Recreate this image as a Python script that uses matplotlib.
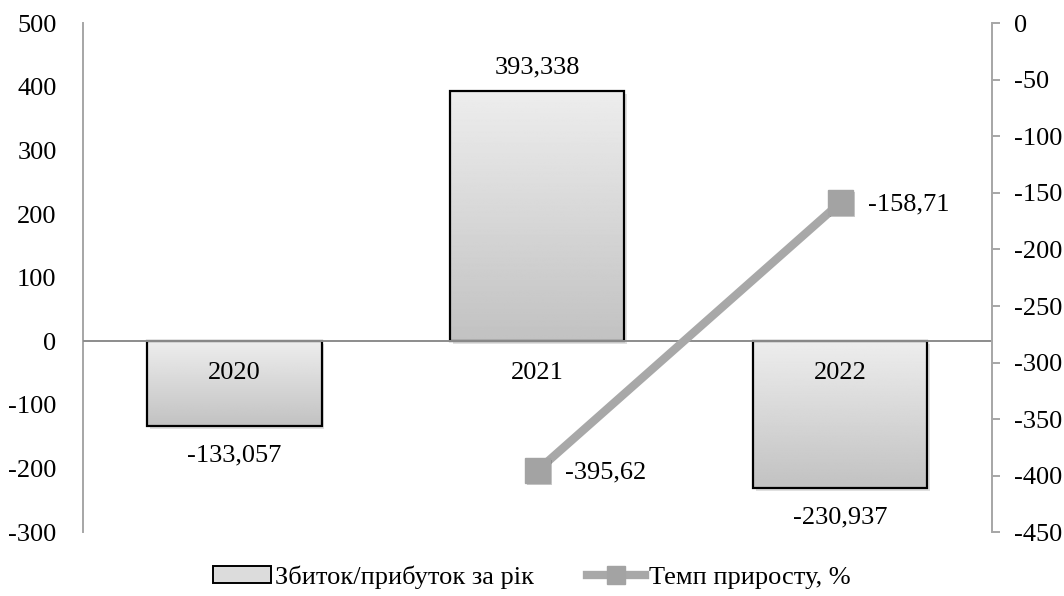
import numpy as np
import matplotlib
matplotlib.use('Agg')
import matplotlib.pyplot as plt
from matplotlib.patches import Patch
from matplotlib.lines import Line2D
import matplotlib.patheffects as pe

# дані
years = ['2020', '2021', '2022']
profit = [-133.057, 393.338, -230.937]
profit_lbl = ['-133,057', '393,338', '-230,937']
growth_years = [1, 2]
growth = [-395.62, -158.71]
growth_lbl = ['-395,62', '-158,71']

plt.rcParams['font.family'] = ['Liberation Serif', 'DejaVu Serif']
plt.rcParams['font.size'] = 19
plt.rcParams['axes.unicode_minus'] = False

fig = plt.figure(figsize=(10.64, 5.96), dpi=100)
ax = fig.add_axes([0.078, 0.107, 0.854, 0.854])
x = np.arange(len(years))
w = 0.575
grad = np.linspace(0.93, 0.76, 256).reshape(-1, 1)

# тінь + градієнт + контур
ax.bar(x, profit, w, color='white', zorder=1,
       path_effects=[pe.SimplePatchShadow(offset=(2, -2), shadow_rgbFace='0.6', alpha=0.3),
                     pe.Normal()])
for xi, v in zip(x, profit):
    ax.imshow(grad, cmap='gray', vmin=0, vmax=1, aspect='auto', origin='upper',
              extent=[xi - w / 2, xi + w / 2, min(0, v), max(0, v)], zorder=2)
ax.bar(x, profit, w, facecolor='none', edgecolor='black', linewidth=1.6, zorder=3)

for xi, v, s in zip(x, profit, profit_lbl):
    off = 17 if v > 0 else -21
    ax.annotate(s, (xi, v), xytext=(0, off), textcoords='offset points',
                ha='center', va='center')
for xi, s in zip(x, years):
    ax.text(xi, -50, s, ha='center', va='center', zorder=4)

ax.axhline(0, color='#8c8c8c', linewidth=1.4, zorder=3.5)
ax.set_xlim(-0.5, 2.5)
ax.set_ylim(-300, 500)
ax.set_yticks(np.arange(-300, 501, 100))
ax.set_xticks([])
for sp in ['top', 'right', 'bottom']:
    ax.spines[sp].set_visible(False)
ax.spines['left'].set_color('#a6a6a6')
ax.spines['left'].set_linewidth(1.4)
ax.tick_params(axis='y', length=0, pad=19)

ax2 = ax.twinx()
ax2.plot(growth_years, growth, color='#a8a8a8', linewidth=6, zorder=2,
         solid_capstyle='butt')
ax2.plot(growth_years, growth, linestyle='none', marker='s', markersize=18,
         markerfacecolor='#a3a3a3', markeredgecolor='#a3a3a3', zorder=3,
         path_effects=[pe.SimplePatchShadow(offset=(1.5, -1.5), alpha=0.25), pe.Normal()])
for xi, v, s in zip(growth_years, growth, growth_lbl):
    ax2.annotate(s, (xi, v), xytext=(20, -1), textcoords='offset points',
                 ha='left', va='center')
ax2.set_xlim(-0.5, 2.5)
ax2.set_ylim(-450, 0)
ax2.set_yticks(np.arange(-450, 1, 50))
for sp in ['top', 'left', 'bottom']:
    ax2.spines[sp].set_visible(False)
ax2.spines['right'].set_color('#a6a6a6')
ax2.spines['right'].set_linewidth(1.4)
ax2.tick_params(axis='y', direction='out', length=6, width=1.4, color='#a6a6a6', pad=10)

handles = [Patch(facecolor='#dcdcdc', edgecolor='black', linewidth=1.4),
           Line2D([], [], color='#a8a8a8', linewidth=6, marker='s', markersize=13,
                  markerfacecolor='#a3a3a3', markeredgecolor='#a3a3a3')]
fig.legend(handles, ['Збиток/прибуток за рік', 'Темп приросту, %'],
           loc='center', bbox_to_anchor=(0.5, 0.032), ncol=2, frameon=False,
           handlelength=2.2, handleheight=0.6, handletextpad=0.15, columnspacing=2.0)

fig.savefig('out.png', dpi=100)
